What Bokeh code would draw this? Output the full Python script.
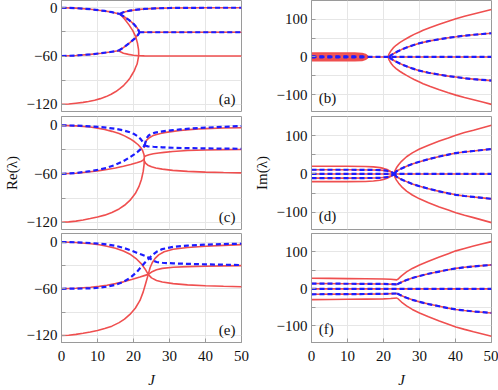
from bokeh.plotting import figure
from bokeh.layouts import gridplot
from bokeh.models import FixedTicker, Label
from bokeh.embed import file_html
from bokeh.resources import INLINE

RED = "#ef4f4f"
BLUE = "#1c1cff"
GRID = "#e6e6e6"
FRAME = "#9a9a9a"
FONT = "Liberation Serif"

J_TICKS = [0, 10, 20, 30, 40, 50]
RE_TICKS = [-120, -60, 0]
RE_MINOR = [-90, -30]
IM_TICKS = [-100, 0, 100]
IM_MINOR = [-50, 50]
RE_LABELS = {-120: "\u2212120", -60: "\u221260", 0: "0"}
IM_LABELS = {-100: "\u2212100", 0: "0", 100: "100"}

# ---------------- panel (a): Re ----------------
a_top_J = [0, 4, 8, 12, 14, 16.2]
a_top_v = [0, -0.5, -1.8, -4.0, -5.5, -7.8]
a_rise_J = [16.2, 17, 18, 19, 21, 23, 26, 30, 40, 50]
a_rise_v = [-7.8, -6.0, -4.6, -3.6, -2.4, -1.5, -0.8, -0.3, 0, 0]
a_loop_J = [16.2, 17.5, 18.7, 19.8, 20.6, 21.1, 21.4, 21.45, 21.35, 21.0, 20.6, 20.2, 19.6, 19.0,
            18.2, 17.3, 16.2, 15.1, 13.8, 12.4, 10.8, 9.2, 7.5, 6, 4, 2, 0]
a_loop_v = [-7.8, -14, -21, -28.5, -36, -44, -52, -58, -62, -70, -74, -78.5, -83, -87.6,
            -92, -96.4, -100.5, -104.2, -107.5, -110.5, -113, -114.9, -116.5, -117.7, -118.7, -119.7, -120]
a_low_J = [0, 4, 8, 11, 13.5, 15.8]
a_low_v = [-60, -59.4, -58, -56.5, -55, -53.5]
a_m60_J = [15.8, 17.2, 18.6, 20, 21.5, 23, 26, 30, 50]
a_m60_v = [-53.5, -56.5, -58, -59, -59.6, -59.9, -60, -60, -60]
a_up_J = [15.8, 17.2, 19, 20.4, 21.2, 21.55, 21.6]
a_up_v = [-53.5, -49.5, -43.3, -38, -34, -31.5, -30.5]
a_down_J = [16.2, 17.5, 18.8, 20.0, 21.0, 21.45, 21.6]
a_down_v = [-7.8, -11.5, -15.5, -20, -25, -28.5, -30.5]
a_m30_J = [21.6, 30, 40, 50]
a_m30_v = [-30.5, -30.5, -30.5, -30.5]

# ---------------- panel (c): Re ----------------
c_top_J = [0, 4, 8, 10, 12, 14, 16, 17.5, 19, 20.3, 21.3, 22.1, 22.6, 22.9, 23.0]
c_top_v = [0, -0.6, -2.1, -3.4, -5.2, -7.4, -10.2, -13, -16.5, -20.3, -24, -28, -32, -36, -39]
c_mid_J = [0, 4, 8, 10.5, 12.6, 15, 17.2, 19.2, 20.9, 22, 22.6, 23.0]
c_mid_v = [-60, -59.3, -57.5, -56.1, -54.6, -52.7, -50.6, -48.5, -46.4, -44.8, -43.4, -41.5]
c_bot_J = [0, 2, 4, 6, 8, 10, 12, 14, 16, 17.5, 19, 20.5, 21.5, 22.2, 22.7, 22.95, 23.0]
c_bot_v = [-120, -119.6, -118.6, -117.2, -115.4, -113.4, -111.2, -108, -103.5, -99, -93, -84.5, -76, -67, -57, -48, -39]
c_r1_J = [23.0, 23.3, 23.8, 24.5, 25.3, 26.2, 27.5, 29, 31, 33, 35.5, 38, 40, 45, 50]
c_r1_v = [-28, -21, -17.5, -15, -13, -11.5, -10, -8.7, -7.4, -6.3, -5.3, -4.5, -4, -3.3, -2.9]
c_r2_J = [23.0, 23.5, 24.3, 25.5, 27, 28.5, 30.9, 35, 40, 45, 50]
c_r2_v = [-39, -37.5, -36.3, -35.2, -34.2, -33.4, -32.3, -31.2, -30.5, -30.1, -29.8]
c_r3_J = [23.0, 23.4, 24, 25, 26.2, 28, 30.9, 35, 40, 45, 50]
c_r3_v = [-44, -47, -49.3, -51.3, -52.8, -54.2, -55.7, -57, -57.9, -58.4, -58.8]
c_bu_J = [0, 4, 8, 10.5, 12.6, 15, 17.2, 19, 20.2, 21.2, 22, 22.5, 22.8, 23.1]
c_bu_v = [0, -0.3, -1.2, -2, -2.9, -4.3, -6.2, -8.5, -10.8, -13.6, -17, -20, -22.5, -25]
c_bl_J = [0, 4, 8, 10.5, 12.6, 15, 17.2, 19, 20.2, 21.2, 22, 22.6, 23.1]
c_bl_v = [-60, -59, -56.7, -54.8, -52.5, -48.8, -44.3, -39.5, -36, -32.6, -29.5, -27, -25]
c_br1_J = [23.1, 23.6, 24.2, 25, 26, 27.5, 29, 31, 33, 35.5, 38, 40, 45, 50]
c_br1_v = [-25, -16, -12.5, -10.5, -9, -7.8, -6.8, -5.8, -5, -4.1, -3.3, -2.8, -1.8, -0.8]
c_br2_J = [23.1, 24, 25.5, 28, 30.9, 35, 40, 45, 50]
c_br2_v = [-25, -26, -26.5, -27.2, -27.7, -28.2, -28.5, -28.8, -29]

# ---------------- panel (e): Re ----------------
e_r1_J = [0, 4, 8.1, 10.5, 12.6, 15, 17.2, 19.2, 20.9, 22.2, 23.2, 24.1, 25, 26.4, 28, 31, 35, 40, 45, 50]
e_r1_v = [0, -0.6, -2.1, -3.5, -5.4, -8, -11.6, -16, -22, -28, -34.5, -41.5, -46, -49.3, -51.3, -53.4, -55, -56.1, -56.8, -57.3]
e_r2_J = [0, 4, 8.1, 10.5, 12.6, 15, 17.2, 19.5, 21.8, 23, 24.1, 25, 26.4, 28, 31, 35, 40, 45, 50]
e_r2_v = [-60, -59.4, -58.1, -56.9, -55.4, -53.4, -51.1, -48.2, -44.9, -43.1, -41.5, -38.5, -35.6, -33.8, -32.4, -31.5, -31, -30.6, -30.3]
e_r3_J = [0, 2, 4, 6, 8, 10, 12, 14, 16, 17.5, 19, 20.5, 21.8, 22.7, 23.4, 24.1, 24.6, 25.2, 26, 27,
          28.5, 31, 35, 40, 45, 50]
e_r3_v = [-120, -119.6, -118.6, -117.2, -115.5, -113.5, -111, -108, -103.5, -99, -93, -85, -75, -64, -53, -41.5,
          -33, -26.5, -21, -16.5, -12.5, -9.3, -7, -5.3, -4.2, -3.3]
e_b1_J = [0, 4, 8.1, 12.6, 15, 17.2, 19.2, 20.9, 22.2, 23.2, 24.4, 25.5, 26.4, 28, 31, 35, 40, 45, 50]
e_b1_v = [0, -0.3, -1.2, -3, -4.8, -7.5, -10.5, -13.7, -16, -17.8, -20.5, -24, -25.6, -26.6, -27.4, -28, -28.6, -29.1, -29.5]
e_b2_J = [0, 4, 8.1, 10.5, 12.6, 15, 17.2, 19.2, 20.9, 22.2, 23.2, 24.4, 25.3, 26.4, 28, 31, 35, 40.1, 45, 50]
e_b2_v = [-60, -59.8, -59.4, -58.6, -57.3, -55, -51.1, -45.5, -38.6, -31.5, -26.2, -20.5, -16.5, -12.5, -9, -6.2, -4.5, -3.3, -2.6, -2.1]

# ---------------- panel (b): Im ----------------
zero_J = [0, 50]
zero_v = [0, 0]
b_band_J = [0, 4, 8, 12, 14, 15, 15.6]
b_band_outer = [9, 9, 9, 9, 8, 5, 0]
b_band_inner = [4, 4, 4, 4, 3.5, 2.5, 0]
b_dots_J = [0, 15]
b_dots_v = [1.5, 1.5]
b_out_J = [21.3, 21.5, 21.8, 22.2, 22.7, 23.5, 24.5, 25.5, 26.4, 27.5, 28.5, 30, 31, 33, 35.5, 38, 40.1, 42.5, 45, 47.5, 50]
b_out_v = [0, 7, 12, 18, 24, 31, 38, 44, 49, 55, 60, 66.5, 71, 78.5, 87, 95, 101.5, 108, 114, 120, 126]
b_in_J = [21.6, 22, 23, 24, 25, 26.4, 28, 30, 32.5, 35.5, 38, 40.1, 42.5, 45, 47.5, 50]
b_in_v = [0, 4, 10, 15, 19.5, 25, 30.5, 36.5, 42, 47, 51, 53.5, 56.5, 59, 61, 63]

# ---------------- panel (d): Im ----------------
d_pre_out_J = [0, 10, 15, 17.2, 19, 20, 21, 21.8, 22.4, 22.9]
d_pre_out_v = [20, 20, 19.5, 18.5, 16.5, 14.5, 11.5, 7.5, 4, 0]
d_pre_in_J = [0, 10, 17, 19, 20.9, 22, 22.6, 23.0]
d_pre_in_v = [11, 11, 10.5, 10, 8.5, 5.5, 3, 0]
d_out_J = [22.9, 23.2, 23.6, 24.2, 25, 26.4, 28, 30, 32.5, 35.5, 38, 40.1, 42.5, 45, 47.5, 50]
d_out_v = [0, 9, 16, 24, 33, 45, 55, 65, 75, 86, 94, 101, 108, 114, 120.5, 127]
d_in_J = [23, 23.6, 24.5, 25.5, 26.4, 28, 30, 32.5, 35.5, 38, 40.1, 42.5, 45, 47.5, 50]
d_in_v = [0, 7, 12, 16.5, 20, 26, 32, 38.5, 45.5, 50.5, 54.5, 57.5, 60, 62.5, 65]

# ---------------- panel (f): Im ----------------
f_pre_out_J = [0, 5, 10, 15, 20, 22, 23.8]
f_pre_out_v = [29, 28.5, 28, 27.5, 27, 26, 24.6]
f_pre_in_J = [0, 10, 20, 23.8]
f_pre_in_v = [14.5, 14, 13.5, 12.3]
f_out_J = [23.8, 24.4, 25, 26.4, 28, 30, 32.5, 35.5, 38, 40.1, 42.5, 45, 47.5, 50]
f_out_v = [24.6, 30, 35.5, 46, 55.5, 65, 75, 86.5, 95.5, 103, 109.5, 116, 122, 128]
f_in_J = [23.8, 24.5, 25.4, 26.4, 28, 30, 32.5, 35.5, 38, 40.1, 42.5, 45, 47.5, 50]
f_in_v = [12.3, 16, 20, 24, 29.5, 35, 41, 47, 52, 55.5, 58.5, 61, 63, 65]

RE_RANGE_TOP = (-129, 9)
RE_RANGE = (-129, 11)
IM_RANGE = (-145, 150)


def make_fig(is_re, row, label):
    top = [0, 3, 2][row]
    frame_h = 111 if row == 0 else 113
    bottom = 44 if row == 2 else 2
    height = top + frame_h + bottom
    width = 250 if is_re else 248
    if is_re:
        yr = RE_RANGE_TOP if row == 0 else RE_RANGE
    else:
        yr = IM_RANGE
    p = figure(width=width, height=height, x_range=(0, 50), y_range=yr,
               output_backend="svg", toolbar_location=None,
               min_border_left=59, min_border_right=9 if is_re else 7,
               min_border_top=top, min_border_bottom=bottom)
    p.background_fill_color = "white"
    p.border_fill_color = "white"
    p.outline_line_color = FRAME
    p.outline_line_width = 1
    yt = FixedTicker(ticks=RE_TICKS if is_re else IM_TICKS,
                     minor_ticks=RE_MINOR if is_re else IM_MINOR)
    xt = FixedTicker(ticks=J_TICKS, minor_ticks=[])
    p.xaxis.ticker = xt
    p.yaxis.ticker = yt
    for ax in (p.xaxis[0], p.yaxis[0]):
        ax.axis_line_color = FRAME
        ax.major_tick_line_color = FRAME
        ax.minor_tick_line_color = FRAME
        ax.major_tick_in = 4
        ax.major_tick_out = 0
        ax.minor_tick_in = 4
        ax.minor_tick_out = 0
        ax.major_label_text_font = FONT
        ax.major_label_text_font_size = "15px"
        ax.major_label_text_color = "#111111"
        ax.axis_label_text_font = FONT
        ax.axis_label_text_font_size = "15px"
        ax.axis_label_text_font_style = "normal"
        ax.axis_label_text_color = "#111111"
    p.yaxis.major_label_overrides = RE_LABELS if is_re else IM_LABELS
    p.yaxis.major_label_standoff = 4
    p.yaxis.axis_label_standoff = 4
    if row == 2:
        p.xaxis.major_label_standoff = 8
        p.xaxis.axis_label = "J"
        p.xaxis.axis_label_text_font_style = "italic"
        p.xaxis.axis_label_standoff = 8
    else:
        p.xaxis.visible = False
    if row == 1:
        p.yaxis.axis_label = "Re(\u03bb)" if is_re else "Im(\u03bb)"
    p.xgrid.ticker = xt
    p.ygrid.ticker = yt
    p.xgrid.grid_line_color = GRID
    p.ygrid.grid_line_color = GRID
    p.ygrid.minor_grid_line_color = GRID
    if is_re:
        lab = Label(x=48.3, y=-123.5, text=label, text_align="right",
                    text_baseline="bottom", text_font=FONT, text_font_size="15px",
                    text_color="#111111")
    else:
        lab = Label(x=2.0, y=-131, text=label, text_align="left",
                    text_baseline="bottom", text_font=FONT, text_font_size="15px",
                    text_color="#111111")
    p.add_layout(lab)
    return p


def red(p, xs, ys, mirror=False, w=1.6):
    p.line(xs, ys, line_color=RED, line_width=w)
    if mirror:
        p.line(xs, [-v for v in ys], line_color=RED, line_width=w)


def blue(p, xs, ys, mirror=False, w=2.2, dash="5 3"):
    p.line(xs, ys, line_color=BLUE, line_width=w, line_dash=dash)
    if mirror:
        p.line(xs, [-v for v in ys], line_color=BLUE, line_width=w, line_dash=dash)


# (a)
pa = make_fig(True, 0, "(a)")
for xs, ys in [(a_top_J, a_top_v), (a_rise_J, a_rise_v), (a_loop_J, a_loop_v),
               (a_low_J, a_low_v), (a_m60_J, a_m60_v), (a_up_J, a_up_v),
               (a_down_J, a_down_v), (a_m30_J, a_m30_v)]:
    red(pa, xs, ys)
for xs, ys in [(a_top_J, a_top_v), (a_rise_J, a_rise_v), (a_low_J, a_low_v),
               (a_up_J, a_up_v), (a_down_J, a_down_v), (a_m30_J, a_m30_v)]:
    blue(pa, xs, ys)

# (c)
pc = make_fig(True, 1, "(c)")
for xs, ys in [(c_top_J, c_top_v), (c_mid_J, c_mid_v), (c_bot_J, c_bot_v),
               (c_r1_J, c_r1_v), (c_r2_J, c_r2_v), (c_r3_J, c_r3_v)]:
    red(pc, xs, ys)
for xs, ys in [(c_bu_J, c_bu_v), (c_bl_J, c_bl_v), (c_br1_J, c_br1_v), (c_br2_J, c_br2_v)]:
    blue(pc, xs, ys)

# (e)
pe = make_fig(True, 2, "(e)")
for xs, ys in [(e_r1_J, e_r1_v), (e_r2_J, e_r2_v), (e_r3_J, e_r3_v)]:
    red(pe, xs, ys)
for xs, ys in [(e_b1_J, e_b1_v), (e_b2_J, e_b2_v)]:
    blue(pe, xs, ys)

# (b)
pb = make_fig(False, 0, "(b)")
red(pb, zero_J, zero_v)
red(pb, b_band_J, b_band_outer, mirror=True, w=2.5)
red(pb, b_band_J, b_band_inner, mirror=True, w=2.5)
red(pb, b_out_J, b_out_v, mirror=True)
red(pb, b_in_J, b_in_v, mirror=True)
blue(pb, zero_J, zero_v)
blue(pb, b_dots_J, b_dots_v, mirror=True, w=2.2, dash="4 4")
blue(pb, b_in_J, b_in_v, mirror=True)

# (d)
pd_ = make_fig(False, 1, "(d)")
red(pd_, zero_J, zero_v)
red(pd_, d_pre_out_J, d_pre_out_v, mirror=True)
red(pd_, d_pre_in_J, d_pre_in_v, mirror=True)
red(pd_, d_out_J, d_out_v, mirror=True)
red(pd_, d_in_J, d_in_v, mirror=True)
blue(pd_, zero_J, zero_v)
blue(pd_, d_pre_in_J, d_pre_in_v, mirror=True)
blue(pd_, d_in_J, d_in_v, mirror=True)

# (f)
pf = make_fig(False, 2, "(f)")
red(pf, zero_J, zero_v)
red(pf, f_pre_out_J, f_pre_out_v, mirror=True)
red(pf, f_pre_in_J, f_pre_in_v, mirror=True)
red(pf, f_out_J, f_out_v, mirror=True)
red(pf, f_in_J, f_in_v, mirror=True)
blue(pf, zero_J, zero_v)
blue(pf, f_pre_in_J, f_pre_in_v, mirror=True)
blue(pf, f_in_J, f_in_v, mirror=True)

grid = gridplot([[pa, pb], [pc, pd_], [pe, pf]], toolbar_location=None)

open("out.html", "w").write(file_html(grid, INLINE))
